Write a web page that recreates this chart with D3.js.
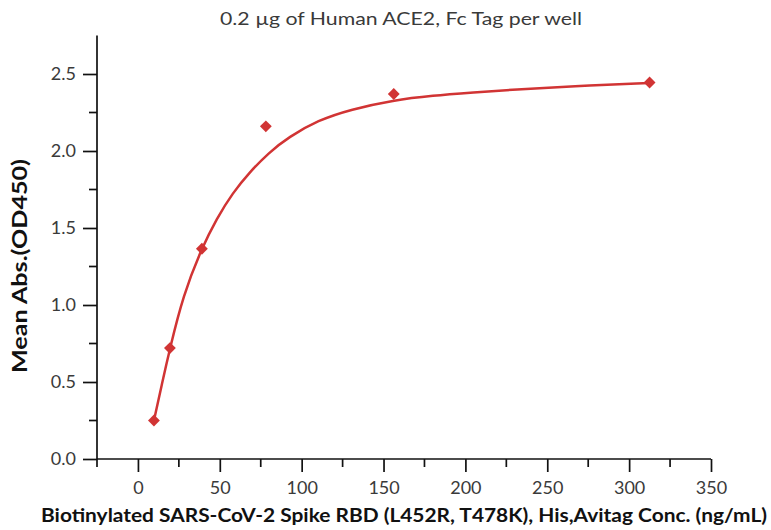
<!DOCTYPE html>
<html>
<head>
<meta charset="utf-8">
<script src="https://cdn.jsdelivr.net/npm/d3@7"></script>
<style>
  body { margin: 0; background: #fff; }
  text { font-family: Lato, "Open Sans", sans-serif; fill: #333; }
</style>
</head>
<body>
<div id="chart"></div>
<script>
// measured points (conc ng/mL, OD450)
var conc = [9.77, 19.53, 39.06, 78.125, 156.25, 312.5];
var od = [0.25, 0.72, 1.365, 2.16, 2.37, 2.445];

// fitted curve
var fitX = [9.8, 14.7, 19.6, 27.5, 39, 48, 58, 68, 80, 92, 110, 130, 156, 180, 205, 230, 265, 312.5];
var fitY = [0.25, 0.49, 0.72, 1.06, 1.37, 1.56, 1.73, 1.86, 1.99, 2.09, 2.20, 2.27, 2.33, 2.36, 2.38, 2.40, 2.42, 2.442];

var xTicks = [0, 50, 100, 150, 200, 250, 300, 350];
var yTicks = [0.0, 0.5, 1.0, 1.5, 2.0, 2.5];

var subtitle = '0.2 \u00b5g of Human ACE2, Fc Tag per well';
var xTitle = 'Biotinylated SARS-CoV-2 Spike RBD (L452R, T478K), His,Avitag Conc. (ng/mL)';
var yTitle = 'Mean Abs.(OD450)';

var width = 771, height = 530;
var red = '#d13434';

var svg = d3.select('#chart').append('svg')
    .attr('width', width)
    .attr('height', height);

var x = d3.scaleLinear().domain([-25, 350]).range([97, 711]);
var y = d3.scaleLinear().domain([0, 2.75]).range([459, 35.5]);

// y axis
var yAxis = d3.axisLeft(y)
    .tickValues(yTicks)
    .tickFormat(d3.format('.1f'))
    .tickSize(14)
    .tickPadding(7);
var gy = svg.append('g')
    .attr('transform', 'translate(97,0)')
    .call(yAxis);
gy.select('.domain').attr('d', 'M0,' + y(2.75) + 'V' + y(0));
gy.append('g').selectAll('line')
    .data(d3.range(0.25, 2.75, 0.5))
    .enter().append('line')
    .attr('x1', -8).attr('x2', 0)
    .attr('y1', d => y(d)).attr('y2', d => y(d));

// x axis
var xAxis = d3.axisBottom(x)
    .tickValues(xTicks)
    .tickSize(13)
    .tickPadding(9);
var gx = svg.append('g')
    .attr('transform', 'translate(0,459)')
    .call(xAxis);
gx.select('.domain').attr('d', 'M' + x(-25) + ',0H' + x(350));
gx.append('g').selectAll('line')
    .data(d3.range(-25, 350, 50))
    .enter().append('line')
    .attr('x1', d => x(d)).attr('x2', d => x(d))
    .attr('y1', 0).attr('y2', 8);

svg.selectAll('g line, .domain')
    .attr('stroke', '#111')
    .attr('stroke-width', 1.7);
svg.selectAll('.tick text')
    .style('font-family', 'Lato, "Open Sans", sans-serif')
    .style('font-size', '18px')
    .style('fill', '#3a3a3a');

// curve
var line = d3.line()
    .x((d, i) => x(fitX[i]))
    .y((d, i) => y(fitY[i]))
    .curve(d3.curveBasis);
svg.append('path')
    .datum(fitX)
    .attr('d', line)
    .attr('fill', 'none')
    .attr('stroke', red)
    .attr('stroke-width', 2.5);

// markers
svg.selectAll('.pt')
    .data(conc)
    .enter().append('path')
    .attr('class', 'pt')
    .attr('d', d3.symbol().type(d3.symbolSquare).size(70))
    .attr('transform', (d, i) => 'translate(' + x(d) + ',' + y(od[i]) + ') rotate(45)')
    .attr('fill', red);

// titles
svg.append('text')
    .attr('x', 401).attr('y', 25)
    .attr('text-anchor', 'middle')
    .attr('textLength', 362)
    .attr('lengthAdjust', 'spacingAndGlyphs')
    .style('font-size', '18px')
    .style('fill', '#3a3a3a')
    .text(subtitle);

svg.append('text')
    .attr('x', 404).attr('y', 522)
    .attr('text-anchor', 'middle')
    .attr('textLength', 726)
    .attr('lengthAdjust', 'spacingAndGlyphs')
    .style('font-size', '18px')
    .style('font-weight', 'bold')
    .style('fill', '#111')
    .text(xTitle);

svg.append('text')
    .attr('transform', 'translate(27,266) rotate(-90)')
    .attr('text-anchor', 'middle')
    .attr('textLength', 214)
    .attr('lengthAdjust', 'spacingAndGlyphs')
    .style('font-size', '21px')
    .style('font-weight', 'bold')
    .style('fill', '#111')
    .text(yTitle);
</script>
</body>
</html>
